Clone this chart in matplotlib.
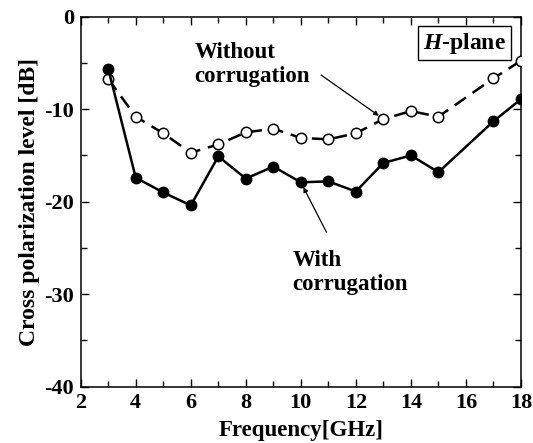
#import
import matplotlib
matplotlib.use("Agg")
import matplotlib.pyplot as plt

#-------------------------------------------------------------------------------

#data
freq = [3, 4, 5, 6, 7, 8, 9, 10, 11, 12, 13, 14, 15, 17, 18]
with_corr = [-5.6, -17.4, -19.0, -20.4, -15.1, -17.5, -16.2, -17.9, -17.8,
             -18.9, -15.8, -15.0, -16.8, -11.3, -8.9]
without_corr = [-6.7, -10.8, -12.6, -14.7, -13.8, -12.5, -12.1, -13.1, -13.25,
                -12.6, -11.05, -10.2, -10.8, -6.65, -4.75]

xticks = [2, 4, 6, 8, 10, 12, 14, 16, 18]
yticks = [0, -10, -20, -30, -40]

#-------------------------------------------------------------------------------

#graphics settings
plt.rcParams['font.family'] = ['Liberation Serif', 'DejaVu Serif']
plt.rcParams['font.weight'] = 'bold'
plt.rcParams['axes.unicode_minus'] = False
plt.rcParams['mathtext.fontset'] = 'custom'
plt.rcParams['mathtext.it'] = 'Liberation Serif:italic:bold'
plt.rcParams['mathtext.rm'] = 'Liberation Serif:bold'

fig = plt.figure(figsize=(5.33, 4.43), dpi=100)
ax = fig.add_axes([0.1514, 0.1275, 0.8261, 0.8344])

ax.set_xlim(2, 18)
ax.set_ylim(-40, 0)
ax.set_xticks(xticks)
ax.set_yticks(yticks)
ax.set_xticks(range(3, 18, 2), minor=True)
ax.set_yticks([-5, -15, -25, -35], minor=True)

ax.tick_params(which='both', direction='in', top=True, right=True,
               labelsize=16, pad=5, width=1)
ax.tick_params(which='major', length=6)
ax.tick_params(which='minor', length=4)
for s in ax.spines.values():
    s.set_linewidth(1.1)

ax.set_xlabel("Frequency[GHz]", fontsize=16.5, fontweight='bold', labelpad=5)
ax.set_ylabel("Cross polarization level [dB]", fontsize=17,
              fontweight='bold', labelpad=3)

#-------------------------------------------------------------------------------

#display
ax.plot(freq, without_corr, color='black', linewidth=1.8, dashes=(5.5, 3.2),
        marker='o', markersize=7.5, markerfacecolor='white',
        markeredgecolor='black', markeredgewidth=1.1, zorder=3)
ax.plot(freq, with_corr, color='black', linewidth=1.8,
        marker='o', markersize=7.5, markerfacecolor='black',
        markeredgecolor='black', zorder=3)

# baseline of the last line of each label
ax.text(6.14, -7.05, "Without\ncorrugation", fontsize=16.5, fontweight='bold',
        ha='left', va='baseline')
ax.text(9.69, -29.6, "With\ncorrugation", fontsize=16.5, fontweight='bold',
        ha='left', va='baseline')

arrow = dict(arrowstyle='-|>', color='black', linewidth=0.9,
             mutation_scale=7, shrinkA=0, shrinkB=4)
ax.annotate("", xy=(freq[10], without_corr[10]), xytext=(10.74, -6.3),
            arrowprops=arrow)
ax.annotate("", xy=(freq[7], with_corr[7]), xytext=(10.93, -23.3),
            arrowprops=arrow)

ax.text(15.95, -2.83, r"$H$-plane", fontsize=17, fontweight='bold',
        ha='center', va='center',
        bbox=dict(boxstyle='square,pad=0.2', facecolor='white',
                  edgecolor='black', linewidth=1))

plt.savefig('out.png', dpi=100)
